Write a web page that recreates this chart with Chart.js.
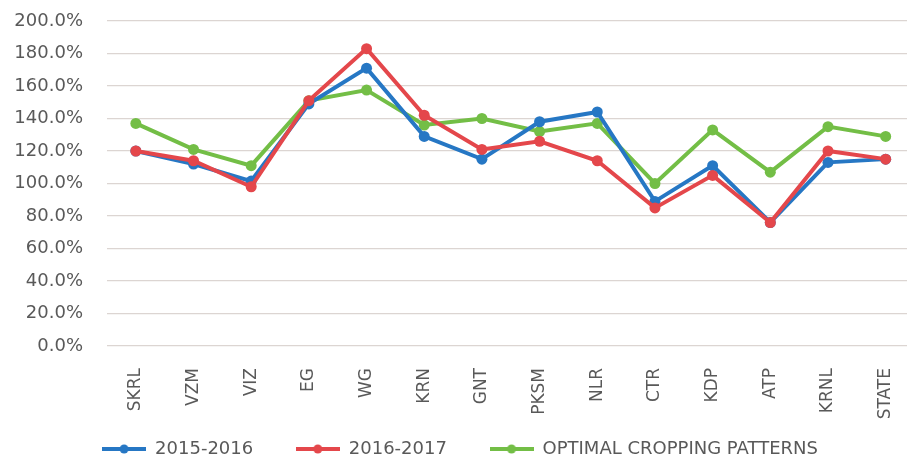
<!DOCTYPE html>
<html>
<head>
<meta charset="utf-8">
<script src="https://cdn.jsdelivr.net/npm/chart.js@4/dist/chart.umd.min.js"></script>
<style>
html,body{margin:0;padding:0;background:#fff;overflow:hidden;}
#wrap{width:920px;height:459px;position:relative;}
</style>
</head>
<body>
<div id="wrap"><canvas id="c" width="920" height="459"></canvas></div>
<script>
const categories = ["SKRL","VZM","VIZ","EG","WG","KRN","GNT","PKSM","NLR","CTR","KDP","ATP","KRNL","STATE"];
const series2015 = [120,112,101.5,149,171,129,115,138,144,89,111,76,113,115];
const series2016 = [120,114,98,151,183,142,121,126,114,85,105,76,120,115];
const seriesOptimal = [137,121,111,151,157.5,136,140,132,137,100,133,107,135,129];
const yTicks = [0,20,40,60,80,100,120,140,160,180,200];

const FONT = "'DejaVu Sans', sans-serif";

function legendIcon(color){
  const cv = document.createElement('canvas');
  cv.width = 44; cv.height = 12;
  const g = cv.getContext('2d');
  g.strokeStyle = color; g.lineWidth = 4;
  g.beginPath(); g.moveTo(0,6); g.lineTo(44,6); g.stroke();
  g.fillStyle = color; g.beginPath(); g.arc(22,6,4.5,0,Math.PI*2); g.fill();
  return cv;
}

const colors = ["#2677c4","#e4474b","#73be46"];
const names = ["2015-2016","2016-2017","OPTIMAL CROPPING PATTERNS"];
const datas = [series2015, series2016, seriesOptimal];
const icons = colors.map(legendIcon);
const GAP = "\u00a0\u00a0\u00a0\u00a0\u00a0";

new Chart(document.getElementById('c'), {
  type: 'line',
  data: {
    labels: categories,
    datasets: datas.map((d,i)=>({
      label: names[i],
      data: d,
      borderColor: colors[i],
      backgroundColor: colors[i],
      borderWidth: 4,
      pointRadius: 5.5,
      pointBackgroundColor: colors[i],
      pointBorderWidth: 0,
      tension: 0,
      order: i===2 ? 3 : (i===0 ? 2 : 1)
    }))
  },
  options: {
    responsive: false,
    animation: false,
    devicePixelRatio: 1,
    layout: { padding: { top: 21, right: 0, left: 0, bottom: -9 } },
    plugins: {
      legend: {
        position: 'bottom',
        labels: {
          usePointStyle: true,
          pointStyleWidth: 44,
          color: '#595959',
          font: { family: FONT, size: 18 },
          padding: 14,
          generateLabels(chart){
            return chart.data.datasets.map((ds,i)=>({
              text: ds.label + (i < 2 ? GAP : ''),
              pointStyle: icons[i],
              fillStyle: ds.borderColor,
              strokeStyle: ds.borderColor,
              lineWidth: 0,
              hidden: false,
              datasetIndex: i,
              fontColor: '#595959'
            }));
          }
        }
      },
      tooltip: { enabled: false }
    },
    scales: {
      x: {
        offset: true,
        grid: { display: false, drawTicks: false },
        border: { display: false },
        ticks: {
          color: '#595959',
          font: { family: FONT, size: 17 },
          minRotation: 90, maxRotation: 90,
          padding: 22,
          autoSkip: false
        },
        afterFit(s){ s.height = 80; s.paddingLeft = 0; s.paddingRight = 0; }
      },
      y: {
        min: 0, max: 200,
        afterBuildTicks(s){ s.ticks = yTicks.map(v=>({value:v})); },
        grid: { color: '#dcd5d2', lineWidth: 1.3, drawTicks: false },
        border: { display: false },
        ticks: {
          color: '#595959',
          font: { family: FONT, size: 18 },
          padding: 24,
          callback: v => v.toFixed(1) + '%'
        },
        afterFit(s){ s.width = 107; s.paddingTop = 0; s.paddingBottom = 0; }
      }
    }
  }
});
</script>
</body>
</html>
